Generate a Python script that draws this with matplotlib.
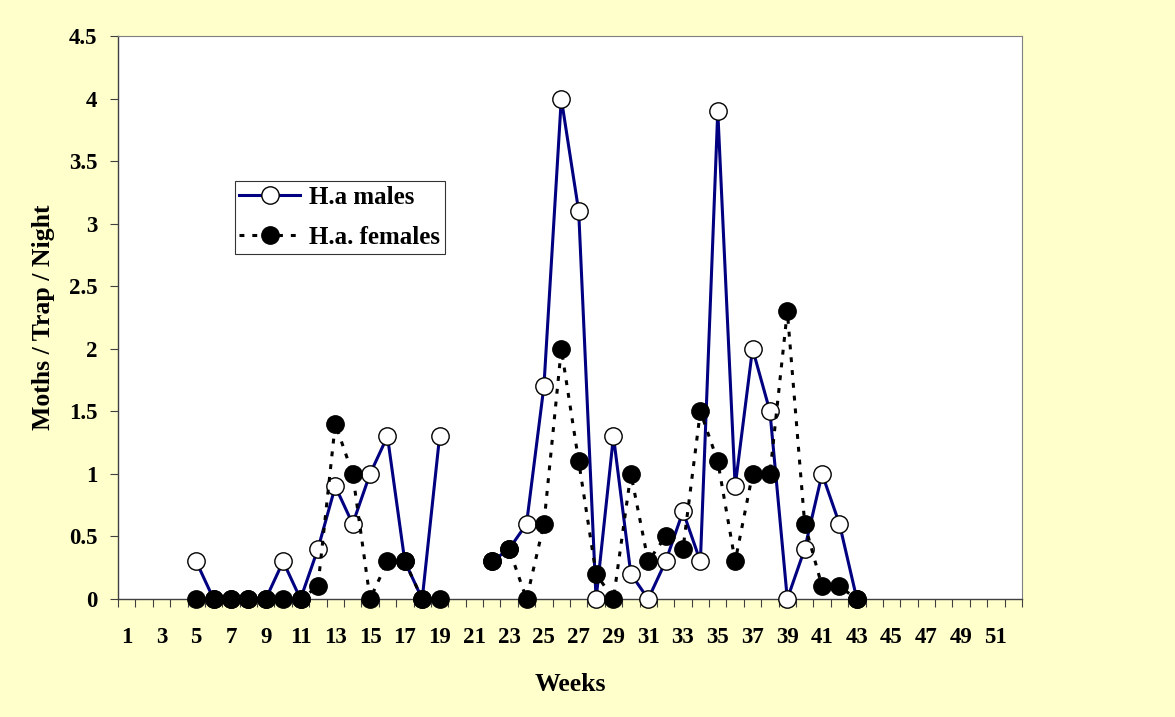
import numpy as np
import matplotlib.pyplot as plt
from matplotlib.ticker import FixedLocator

nan = np.nan

# 周数 (第5周到第43周有数据，20、21周缺测)
weeks = list(range(5, 44))
males = [0.3, 0, 0, 0, 0, 0.3, 0, 0.4, 0.9, 0.6, 1.0, 1.3, 0.3, 0, 1.3, nan, nan,
         0.3, 0.4, 0.6, 1.7, 4.0, 3.1, 0, 1.3, 0.2, 0, 0.3, 0.7, 0.3, 3.9, 0.9,
         2.0, 1.5, 0, 0.4, 1.0, 0.6, 0]
females = [0, 0, 0, 0, 0, 0, 0, 0.1, 1.4, 1.0, 0, 0.3, 0.3, 0, 0, nan, nan,
           0.3, 0.4, 0, 0.6, 2.0, 1.1, 0.2, 0, 1.0, 0.3, 0.5, 0.4, 1.5, 1.1, 0.3,
           1.0, 1.0, 2.3, 0.6, 0.1, 0.1, 0]
n_weeks = 52
y_ticks = [0, 0.5, 1, 1.5, 2, 2.5, 3, 3.5, 4, 4.5]
y_labels = ['0', '0.5', '1', '1.5', '2', '2.5', '3', '3.5', '4', '4.5']

plt.rcParams['font.family'] = ['Liberation Serif', 'DejaVu Serif']
plt.rcParams['font.weight'] = 'bold'

fig = plt.figure(figsize=(11.75, 7.17), dpi=100, facecolor='#FFFFCC')
ax = fig.add_axes([0.1004, 0.1646, 0.7694, 0.7852])
ax.set_facecolor('white')

ax.plot(weeks, males, color='#000080', lw=2.2, marker='o', ms=12.5,
        mfc='white', mec='black', mew=1.0, clip_on=False, zorder=3,
        label='H.a males')
ax.plot(weeks, females, color='black', lw=2.2, ls=(0, (1.6, 2.6)), marker='o',
        ms=12.5, mfc='black', mec='black', mew=1.0, clip_on=False, zorder=4,
        label='H.a. females')

ax.set_xlim(0.5, n_weeks + 0.5)
ax.set_ylim(0, 4.5)

# 类别轴：刻度线在类别之间，标签只标奇数周
ax.xaxis.set_major_locator(FixedLocator(np.arange(0.5, n_weeks + 1, 1)))
ax.set_xticklabels([])
ax.xaxis.set_minor_locator(FixedLocator(np.arange(1, n_weeks + 1, 2)))
ax.set_xticklabels([str(w) for w in range(1, n_weeks + 1, 2)], minor=True)
ax.tick_params(axis='x', which='major', length=6, width=0.8, color='#404040')
ax.tick_params(axis='x', which='minor', length=0, pad=20, labelsize=16.5)

ax.set_yticks(y_ticks)
ax.set_yticklabels(y_labels)
ax.tick_params(axis='y', length=6, width=0.8, color='#404040', labelsize=16.5, pad=9)

for side in ['top', 'right']:
    ax.spines[side].set_color('#808080')
    ax.spines[side].set_linewidth(0.8)
for side in ['left', 'bottom']:
    ax.spines[side].set_color('#404040')
    ax.spines[side].set_linewidth(1.0)

ax.set_xlabel('Weeks', fontsize=18.5, fontweight='bold', labelpad=18)
ax.set_ylabel('Moths / Trap / Night', fontsize=18.5, fontweight='bold', labelpad=10)

leg = ax.legend(loc='upper left', bbox_to_anchor=(0.129, 0.742), fontsize=18,
                frameon=True, fancybox=False, edgecolor='black', borderpad=0.18,
                handlelength=2.45, labelspacing=0.7, handletextpad=0.35,
                borderaxespad=0)
leg.get_frame().set_linewidth(0.8)

fig.savefig('out.png', dpi=100, facecolor=fig.get_facecolor())
